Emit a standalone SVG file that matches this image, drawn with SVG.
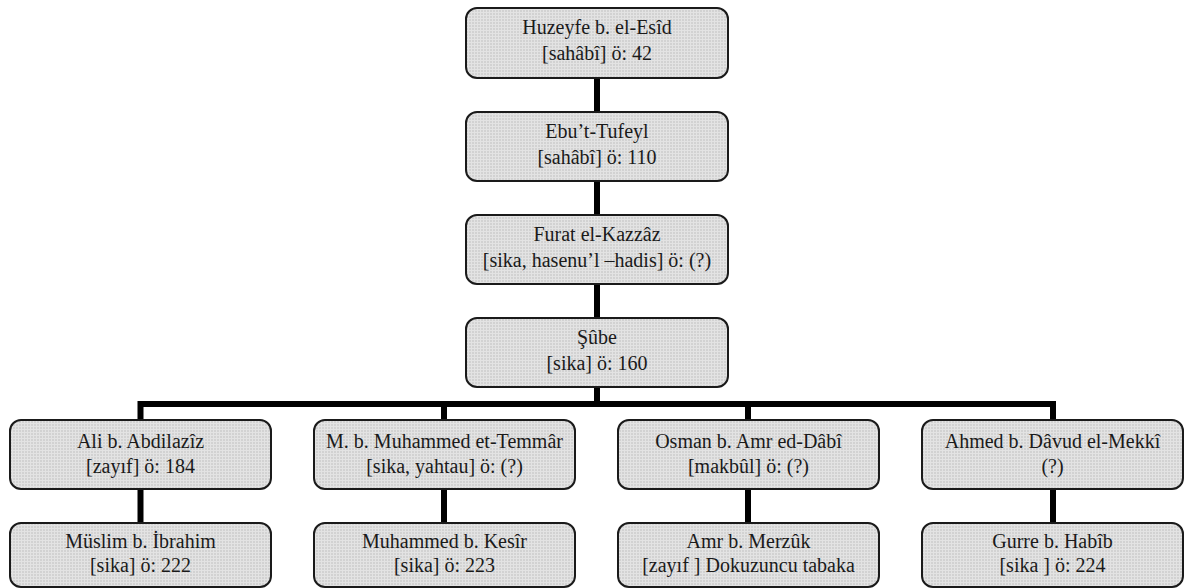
<svg xmlns="http://www.w3.org/2000/svg" width="1184" height="588" viewBox="0 0 1184 588">
  <defs>
    <pattern id="grid" x="0" y="0" width="6" height="6" patternUnits="userSpaceOnUse">
      <rect width="6" height="6" fill="#d2d2d2"/>
      <path d="M0 0.5H6M0 3.5H6M0.5 0V6M3.5 0V6" stroke="#e3e3e3" stroke-width="1"/>
    </pattern>
  </defs>
  <style>
    .box { fill: url(#grid); stroke: #1a1a1a; stroke-width: 2; }
    .t { font-family: "Liberation Serif", "Times New Roman", serif; font-size: 20px; fill: #1a1a1a; text-anchor: middle; }
    .c { stroke: #000; stroke-width: 6; fill: none; }
  </style>
  <rect width="1184" height="588" fill="#ffffff"/>
  <g id="connectors">
    <line class="c" x1="597" y1="78" x2="597" y2="112"/>
    <line class="c" x1="597" y1="181" x2="597" y2="215"/>
    <line class="c" x1="597" y1="284" x2="597" y2="318"/>
    <line class="c" x1="597" y1="387" x2="597" y2="404"/>
    <polyline class="c" points="140.5,420 140.5,404 1053,404 1053,420"/>
    <line class="c" x1="444" y1="404" x2="444" y2="420"/>
    <line class="c" x1="748" y1="404" x2="748" y2="420"/>
    <line class="c" x1="140.5" y1="489" x2="140.5" y2="523"/>
    <line class="c" x1="444" y1="489" x2="444" y2="523"/>
    <line class="c" x1="748" y1="489" x2="748" y2="523"/>
    <line class="c" x1="1053" y1="489" x2="1053" y2="523"/>
  </g>
  <g id="n1">
    <rect class="box" x="466" y="8" width="262" height="70" rx="11"/>
    <text class="t" x="597" y="34">Huzeyfe b. el-Esîd</text>
    <text class="t" x="597" y="60">[sahâbî] ö: 42</text>
  </g>
  <g id="n2">
    <rect class="box" x="466" y="112" width="262" height="69" rx="11"/>
    <text class="t" x="597" y="138">Ebu’t-Tufeyl</text>
    <text class="t" x="597" y="164">[sahâbî] ö: 110</text>
  </g>
  <g id="n3">
    <rect class="box" x="466" y="215" width="262" height="69" rx="11"/>
    <text class="t" x="597" y="241">Furat el-Kazzâz</text>
    <text class="t" x="597" y="267">[sika, hasenu’l –hadis] ö: (?)</text>
  </g>
  <g id="n4">
    <rect class="box" x="466" y="318" width="262" height="69" rx="11"/>
    <text class="t" x="597" y="344">Şûbe</text>
    <text class="t" x="597" y="370">[sika] ö: 160</text>
  </g>
  <g id="n5">
    <rect class="box" x="10" y="420" width="261" height="69" rx="11"/>
    <text class="t" x="140.5" y="448">Ali b. Abdilazîz</text>
    <text class="t" x="140.5" y="473">[zayıf] ö: 184</text>
  </g>
  <g id="n6">
    <rect class="box" x="314" y="420" width="261" height="69" rx="11"/>
    <text class="t" x="444.5" y="448">M. b. Muhammed et-Temmâr</text>
    <text class="t" x="444.5" y="473">[sika, yahtau] ö: (?)</text>
  </g>
  <g id="n7">
    <rect class="box" x="618" y="420" width="261" height="69" rx="11"/>
    <text class="t" x="748.5" y="448">Osman b. Amr ed-Dâbî</text>
    <text class="t" x="748.5" y="473">[makbûl] ö: (?)</text>
  </g>
  <g id="n8">
    <rect class="box" x="922" y="420" width="261" height="69" rx="11"/>
    <text class="t" x="1052.5" y="448">Ahmed b. Dâvud el-Mekkî</text>
    <text class="t" x="1052.5" y="473">(?)</text>
  </g>
  <g id="n9">
    <rect class="box" x="10" y="523" width="261" height="64" rx="11"/>
    <text class="t" x="140.5" y="548">Müslim b. İbrahim</text>
    <text class="t" x="140.5" y="572">[sika] ö: 222</text>
  </g>
  <g id="n10">
    <rect class="box" x="314" y="523" width="261" height="64" rx="11"/>
    <text class="t" x="444.5" y="548">Muhammed b. Kesîr</text>
    <text class="t" x="444.5" y="572">[sika] ö: 223</text>
  </g>
  <g id="n11">
    <rect class="box" x="618" y="523" width="261" height="64" rx="11"/>
    <text class="t" x="748.5" y="548">Amr b. Merzûk</text>
    <text class="t" x="748.5" y="572">[zayıf ] Dokuzuncu tabaka</text>
  </g>
  <g id="n12">
    <rect class="box" x="922" y="523" width="261" height="64" rx="11"/>
    <text class="t" x="1052.5" y="548">Gurre b. Habîb</text>
    <text class="t" x="1052.5" y="572">[sika ] ö: 224</text>
  </g>
</svg>
